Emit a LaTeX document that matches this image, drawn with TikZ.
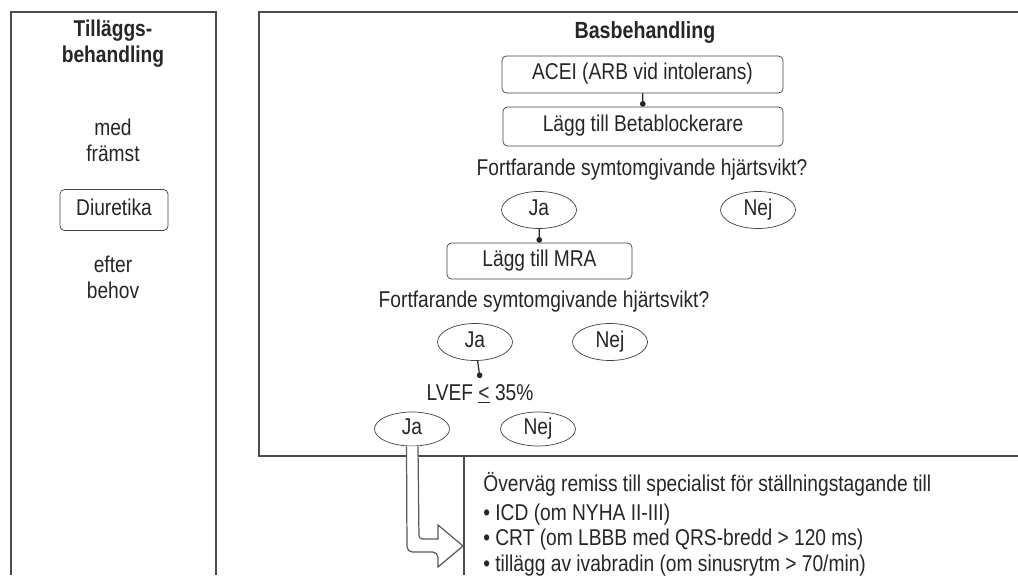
\documentclass[tikz,border=0pt]{standalone}
\usepackage{fontspec}
\setmainfont[FakeStretch=0.84]{Liberation Sans}
\usetikzlibrary{shapes.geometric,arrows.meta,calc}
\tikzset{
  box/.style={draw=black!75,rounded corners=2.5pt,minimum height=0.74cm,inner sep=0pt,text height=1.6ex,text depth=0.45ex},
  oval/.style={ellipse,draw=black!75,minimum width=1.5cm,minimum height=0.74cm,inner sep=0pt,text height=1.6ex,text depth=0.45ex},
  dotline/.style={draw=black!85,line width=0.7pt,-{Circle[length=3.2pt]}},
  frame/.style={draw=black!70,line width=0.8pt},
}
\begin{document}
\begin{tikzpicture}[x=0.02cm,y=-0.02cm,font=\fontsize{13}{15.6}\selectfont,text=black!85]
\useasboundingbox (0,0) rectangle (1018,575);
% frames
\draw[frame] (11,575) -- (11,12) -- (216,12) -- (216,575);
\draw[frame] (1018,12) -- (259,12) -- (259,456) -- (1018,456);
\draw[frame] (464,456) -- (464,575);
% left column
\node at (113,44) [align=center,font=\fontsize{13}{14.7}\selectfont\bfseries] (tillagg) {Tilläggs-\\behandling};
\node at (113,140) [align=center,font=\fontsize{13}{14.7}\selectfont] (med) {med\\främst};
\node at (114,210) [box,minimum width=2.16cm,minimum height=0.82cm] (diur) {Diuretika};
\node at (113,277) [align=center,font=\fontsize{13}{14.7}\selectfont] (efter) {efter\\behov};
% base treatment
\node at (645,33) [font=\fontsize{13.3}{15}\selectfont\bfseries] (bas) {Basbehandling};
\node at (642.5,74.5) [box,minimum width=5.62cm] (acei) {ACEI (ARB vid intolerans)};
\node at (643,126.5) [box,minimum width=5.6cm,minimum height=0.78cm] (beta) {Lägg till Betablockerare};
\node at (642,170) (q1) {Fortfarande symtomgivande hjärtsvikt?};
\node at (539,210) [oval] (ja1) {Ja};
\node at (758,210) [oval] (nej1) {Nej};
\node at (539.5,261) [box,minimum width=3.7cm,minimum height=0.72cm] (mra) {Lägg till MRA};
\node at (544,302) (q2) {Fortfarande symtomgivande hjärtsvikt?};
\node at (475,342) [oval] (ja2) {Ja};
\node at (610,342) [oval] (nej2) {Nej};
\node at (480,394) (lvef) {LVEF \underline{<} 35\%};
\node at (412,429) [oval,minimum height=0.68cm] (ja3) {Ja};
\node at (538,429) [oval,minimum height=0.68cm] (nej3) {Nej};
\draw[dotline] (acei) -- (beta);
\draw[dotline] (ja1) -- (mra);
\draw[dotline] (ja2) -- (lvef.north);
% referral
\node at (483,472) [anchor=north west,align=left,inner sep=0pt,font=\fontsize{13}{14.5}\selectfont] (remiss)
  {Överväg remiss till specialist för ställningstagande till\\[2pt]
   \textbullet{} ICD (om NYHA II-III)\\
   \textbullet{} CRT (om LBBB med QRS-bredd > 120 ms)\\
   \textbullet{} tillägg av ivabradin (om sinusrytm > 70/min)};
\coordinate (tip) at (463,546);
\draw[draw=black!65,fill=white,line width=0.7pt,rounded corners=3pt]
  ($(ja3.south)+(-5.5,0)$) -- (407,552) -- (438,552) [sharp corners] -- (438,567) -- (tip)
  -- (438,525) -- (438,539) [rounded corners=2pt] -- (419,539) -- ($(ja3.south)+(6,0)$);
\end{tikzpicture}
\end{document}
